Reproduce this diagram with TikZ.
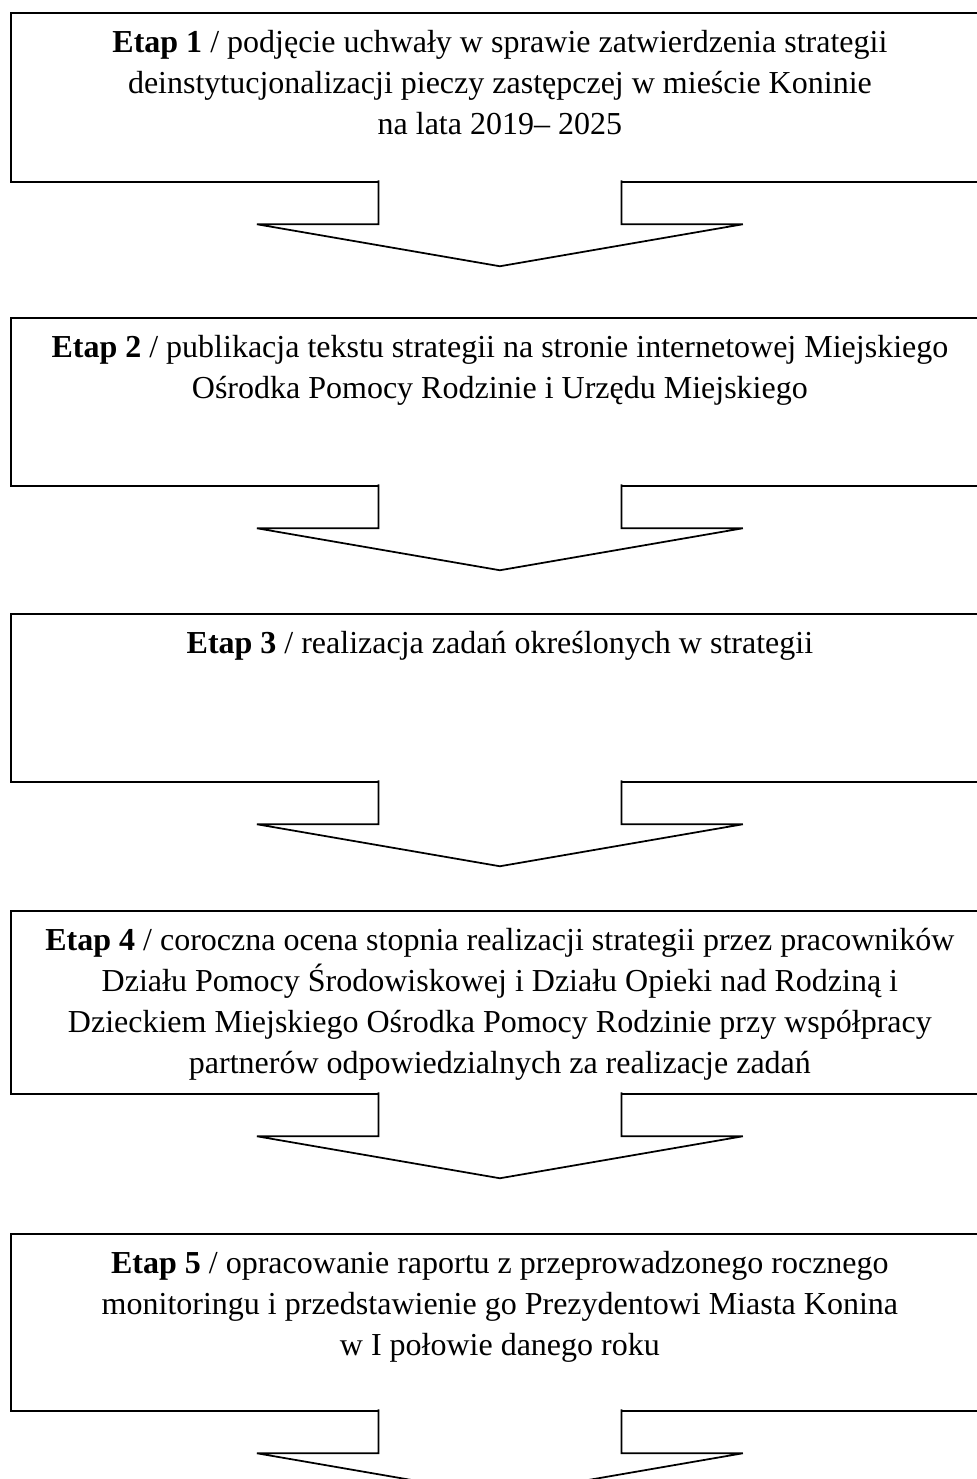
\documentclass[tikz,border=0pt]{standalone}
\usepackage{fontspec}
\setmainfont{Liberation Serif}
\usepackage{tikz}
\tikzset{
  stagebox/.style={draw=black, fill=white, line width=0.7pt, rectangle, anchor=north west,
    minimum width=391.2pt, inner xsep=0pt, inner ysep=7pt, font=\fontsize{12.8pt}{16.4pt}\selectfont},
  downarrow/.style={draw=black, fill=white, line width=0.7pt, line join=miter}
}

\begin{document}
\begin{tikzpicture}[x=0.4pt,y=-0.4pt]
\useasboundingbox (0,0) rectangle (976,1479);

\node [stagebox] (etap1) at (10,12) {%
    \begin{minipage}[t][53.6pt][t]{390pt}
        \centering
        \textbf{Etap 1} / podjęcie uchwały w sprawie zatwierdzenia strategii\\
        deinstytucjonalizacji pieczy zastępczej w mieście Koninie\\
        na lata 2019– 2025
    \end{minipage}
};
\node [stagebox] (etap2) at (10,317) {%
    \begin{minipage}[t][53.2pt][t]{390pt}
        \centering
        \textbf{Etap 2} / publikacja tekstu strategii na stronie internetowej Miejskiego\\
        Ośrodka Pomocy Rodzinie i Urzędu Miejskiego
    \end{minipage}
};
\node [stagebox] (etap3) at (10,613) {%
    \begin{minipage}[t][53.2pt][t]{390pt}
        \centering
        \textbf{Etap 3} / realizacja zadań określonych w strategii
    \end{minipage}
};
\node [stagebox] (etap4) at (10,910) {%
    \begin{minipage}[t][59.2pt][t]{390pt}
        \centering
        \textbf{Etap 4} / coroczna ocena stopnia realizacji strategii przez pracowników\\
        Działu Pomocy Środowiskowej i Działu Opieki nad Rodziną i\\
        Dzieckiem Miejskiego Ośrodka Pomocy Rodzinie przy współpracy\\
        partnerów odpowiedzialnych za realizacje zadań
    \end{minipage}
};
\node [stagebox] (etap5) at (10,1233) {%
    \begin{minipage}[t][56.8pt][t]{390pt}
        \centering
        \textbf{Etap 5} / opracowanie raportu z przeprowadzonego rocznego\\
        monitoringu i przedstawienie go Prezydentowi Miasta Konina\\
        w I połowie danego roku
    \end{minipage}
};

% block arrows under each stage
\foreach \s in {etap1,etap2,etap3,etap4,etap5}
  \draw [downarrow] ([xshift=-48.6pt,yshift=1pt]\s.south) -- ++(0,44) -- ++(-121.5,0)
    -- ++(243,42) -- ++(243,-42) -- ++(-121.5,0) -- ++(0,-44);
\end{tikzpicture}
\end{document}
